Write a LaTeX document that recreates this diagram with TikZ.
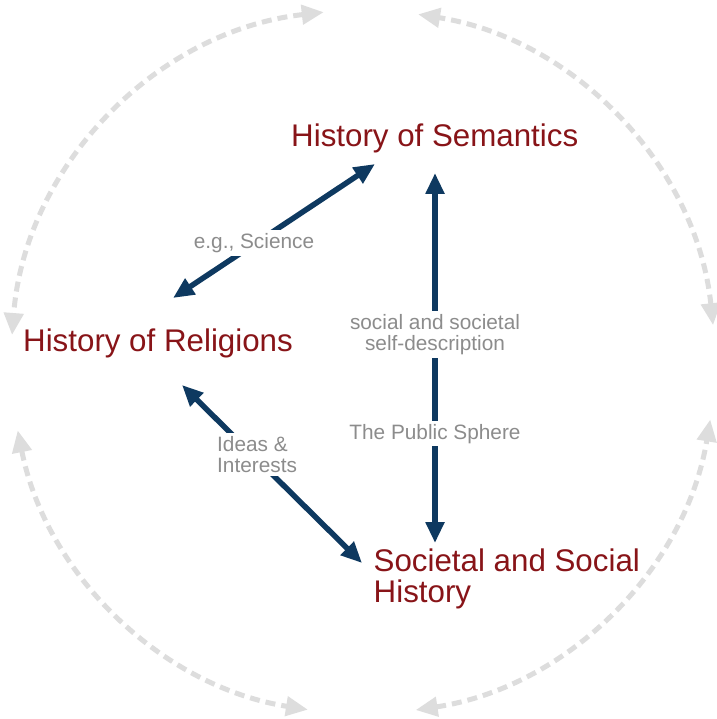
\documentclass[tikz,border=0pt]{standalone}
\usepackage{fontspec}
\setmainfont{Liberation Sans}
\usetikzlibrary{arrows.meta,calc}

\definecolor{navy}{RGB}{14,57,96}
\definecolor{fieldred}{RGB}{136,20,24}
\definecolor{labelgray}{RGB}{140,140,140}
\definecolor{ringgray}{RGB}{221,221,221}

\begin{document}
\begin{tikzpicture}[x=1pt,y=-1pt,
  field/.style={inner sep=0pt, text=fieldred, align=left,
                font=\fontsize{31.3}{31}\selectfont},
  lab/.style={fill=white, text=labelgray, inner sep=3pt, align=center,
              font=\fontsize{20.8}{21.5}\selectfont},
  link/.style={draw=navy, line width=5.5pt,
               {Triangle[length=21pt,width=18pt]}-{Triangle[length=21pt,width=18pt]}},
  ring/.style={draw=ringgray, line width=5pt, dash pattern=on 10pt off 6pt,
               {Triangle[length=22pt,width=19pt]}-{Triangle[length=22pt,width=19pt]}}
]
% canvas
\fill[white] (0,0) rectangle (716,719);
\useasboundingbox (0,0) rectangle (716,719);

% outer ring of four dashed, double-headed arcs
\coordinate (hub) at (363,362);
\draw[ring] ($(hub)+(-96.4:352)$)  arc[start angle=-96.4,  end angle=-175.6, radius=352];
\draw[ring] ($(hub)+(-191.2:352)$) arc[start angle=-191.2, end angle=-261,   radius=352];
\draw[ring] ($(hub)+(-278.6:352)$) arc[start angle=-278.6, end angle=-350.6, radius=352];
\draw[ring] ($(hub)+(-6:352)$)     arc[start angle=-6,     end angle=-81,    radius=352];

% the three fields
\node[field, anchor=base west]  (sem) at (291,147) {History of Semantics};
\node[field, anchor=base west]  (rel) at (23,351)  {History of Religions};
\node[field, anchor=north west] (soc) at (373.5,549) {Societal and Social\\History};

% arrow ends next to the fields
\coordinate (semA) at (375,164);
\coordinate (relA) at (173,298);
\coordinate (semB) at (435,173);
\coordinate (socB) at (435,543);
\coordinate (relC) at (182,385);
\coordinate (socC) at (362,563);

\draw[link] (semA) -- (relA);
\draw[link] (semB) -- (socB);
\draw[link] (relC) -- (socC);

% labels sitting on the arrows
\node[lab, anchor=base] (sci)  at (254,248.5) {e.g., Science};
\node[lab]              (self) at (435,334.7) {social and societal\\self-description};
\node[lab, anchor=base] (pub)  at (435,439)   {The Public Sphere};
\node[lab, anchor=west, align=left] (ideas) at (214,454.5) {Ideas \&\\Interests};
\end{tikzpicture}
\end{document}
